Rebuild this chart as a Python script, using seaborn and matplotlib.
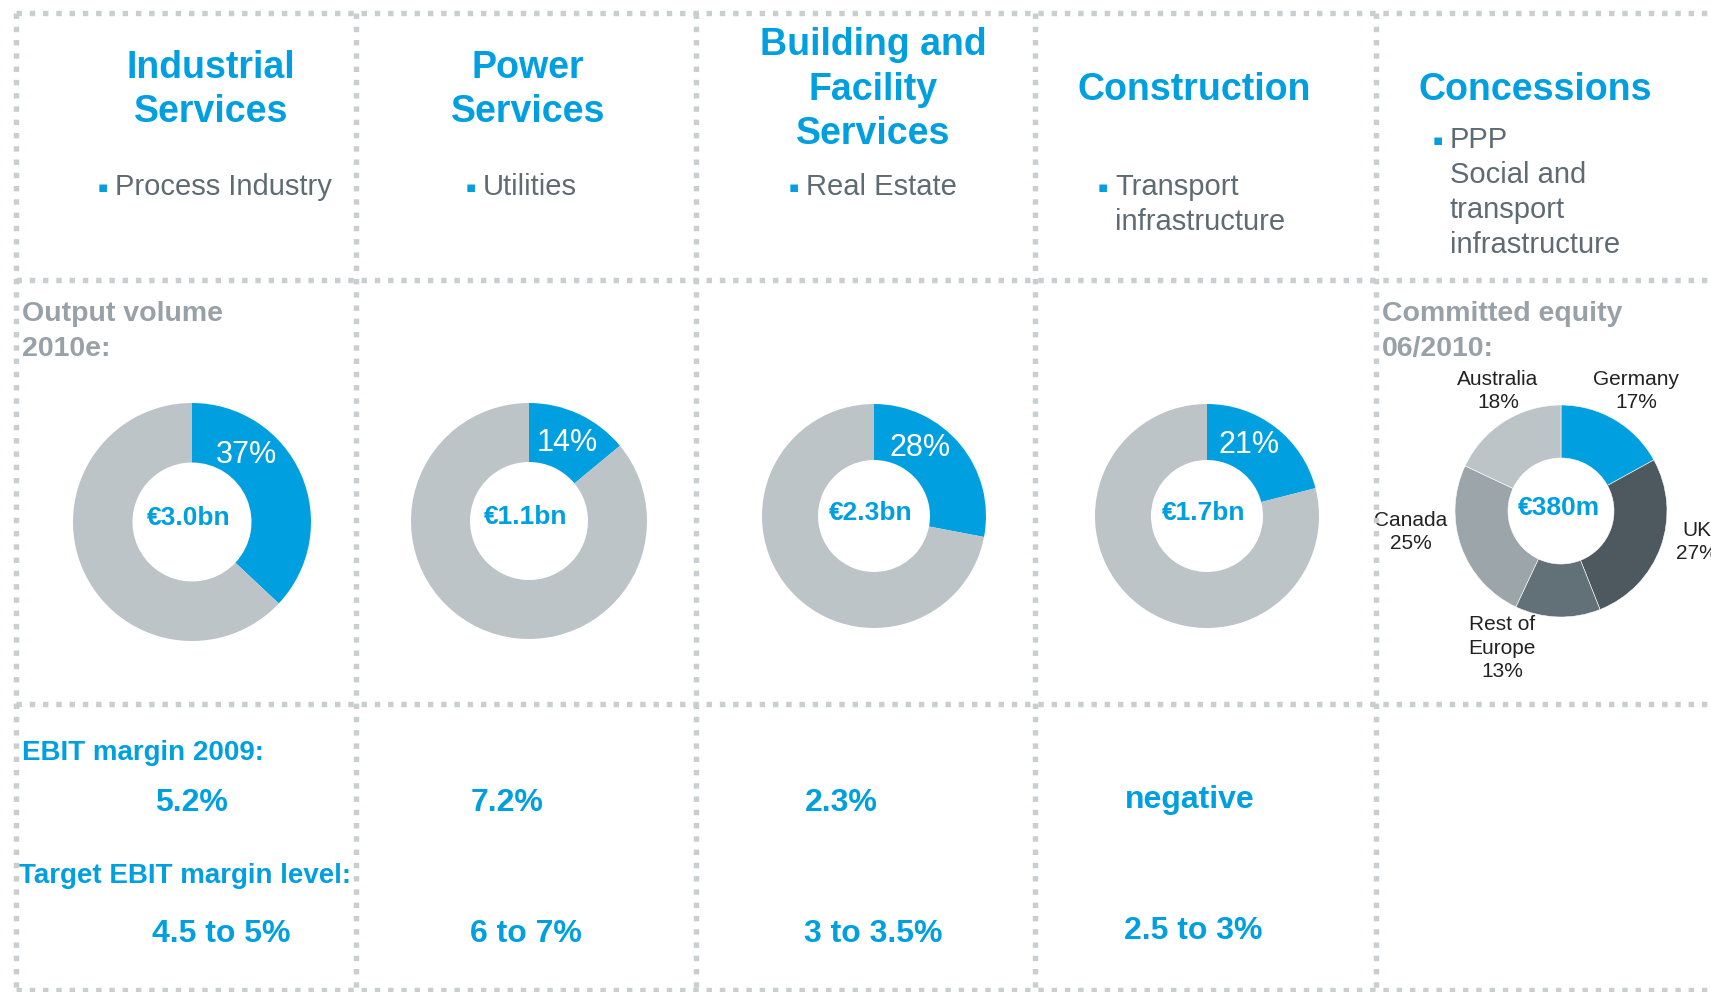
import matplotlib
matplotlib.use('Agg')
import matplotlib.pyplot as plt
import seaborn as sns

# ---- data ----
segments = ['Industrial\nServices', 'Power\nServices', 'Building and\nFacility\nServices',
            'Construction', 'Concessions']
focus = [['Process Industry'], ['Utilities'], ['Real Estate'],
         ['Transport', 'infrastructure'],
         ['PPP', 'Social and', 'transport', 'infrastructure']]

output_share = [37, 14, 28, 21]
output_volume = ['€3.0bn', '€1.1bn', '€2.3bn', '€1.7bn']
ebit_2009 = ['5.2%', '7.2%', '2.3%', 'negative']
ebit_target = ['4.5 to 5%', '6 to 7%', '3 to 3.5%', '2.5 to 3%']

equity_regions = ['Germany', 'UK', 'Rest of\nEurope', 'Canada', 'Australia']
equity_share = [17, 27, 13, 25, 18]
equity_total = '€380m'

# ---- style ----
BLUE = '#009fe0'
RING = '#bdc4c7'
SUB = '#5f6b73'
LABEL = '#98a1a7'
DOTS = '#c9ced1'
equity_colors = [BLUE, '#4e595f', '#627077', '#9ca5aa', '#bdc4c7']

sns.set_theme(style='white')
plt.rcParams['font.family'] = ['Liberation Sans', 'DejaVu Sans']

W, H = 1711, 992
fig = plt.figure(figsize=(W / 100, H / 100), dpi=100)
ax = fig.add_axes([0, 0, 1, 1])
ax.set_xlim(0, W)
ax.set_ylim(H, 0)
ax.axis('off')

# dotted grid
dot = dict(color=DOTS, lw=3.9, ls=(0, (1, 1.45)), zorder=10)
for y in [13, 280, 704, 990]:
    ax.plot([16, W], [y, y], **dot)
for x in [16, 356, 696, 1035, 1376]:
    ax.plot([x, x], [13, 990], **dot)

# headers
title_x = [211, 528, 873, 1194, 1535]
title_y0 = [78, 78, 55, 100, 100]
for name, x, y0 in zip(segments, title_x, title_y0):
    for i, line in enumerate(name.split('\n')):
        ax.text(x, y0 + i * 44.5, line, ha='center', va='baseline',
                fontsize=27, fontweight='bold', color=BLUE)

focus_x = [115, 483, 806, 1115, 1450]
focus_y0 = [195, 195, 195, 195, 148]
for lines, x, y0 in zip(focus, focus_x, focus_y0):
    ax.text(x - 7, y0 - 3, '▪', ha='right', va='baseline', fontsize=11,
            color=BLUE, family='DejaVu Sans')
    for i, line in enumerate(lines):
        ax.text(x, y0 + i * 35, line, ha='left', va='baseline',
                fontsize=21, color=SUB)

# section labels
for x, txt in [(22, ['Output volume', '2010e:']), (1382, ['Committed equity', '06/2010:'])]:
    for i, line in enumerate(txt):
        ax.text(x, 321 + i * 35, line, ha='left', va='baseline',
                fontsize=20.5, fontweight='bold', color=LABEL)

ax.text(22, 760, 'EBIT margin 2009:', ha='left', va='baseline',
        fontsize=20, fontweight='bold', color=BLUE)
ax.text(19, 883, 'Target EBIT margin level:', ha='left', va='baseline',
        fontsize=20, fontweight='bold', color=BLUE)

val_x = [191, 507, 841, 1190]
val_y = [811, 811, 811, 808]
tgt_x = [221, 526, 873, 1193]
tgt_y = [942, 942, 942, 939]
for v, x, y in zip(ebit_2009, val_x, val_y):
    ax.text(x, y, v, ha='center', va='baseline', fontsize=23,
            fontweight='bold', color=BLUE)
for v, x, y in zip(ebit_target, tgt_x, tgt_y):
    ax.text(x, y, v, ha='center', va='baseline', fontsize=23,
            fontweight='bold', color=BLUE)


def donut_axes(cx, cy, r):
    a = fig.add_axes([(cx - r) / W, 1 - (cy + r) / H, 2 * r / W, 2 * r / H])
    return a


# output donuts
centers = [(192, 522), (529, 521), (874, 516), (1207, 516)]
radii = [119, 118, 112, 112]
pct_pos = [(0.46, 0.56), (0.32, 0.66), (0.41, 0.61), (0.375, 0.63)]
for share, vol, (cx, cy), r, (px, py) in zip(output_share, output_volume,
                                               centers, radii, pct_pos):
    dax = donut_axes(cx, cy, r)
    dax.pie([share, 100 - share], colors=[BLUE, RING], startangle=90,
            counterclock=False, radius=1,
            wedgeprops=dict(width=0.5, linewidth=0))
    dax.set_xlim(-1, 1)
    dax.set_ylim(-1, 1)
    dax.text(px, py, f'{share}%', ha='center', va='center', fontsize=22,
             color='white')
    dax.text(-0.03, 0.03, vol, ha='center', va='center', fontsize=19,
             fontweight='bold', color=BLUE)

# concessions donut
cax = donut_axes(1561, 511, 106)
cax.pie(equity_share, colors=equity_colors, startangle=90, counterclock=False,
        radius=1, wedgeprops=dict(width=0.5, edgecolor='white', linewidth=0.4))
cax.set_xlim(-1, 1)
cax.set_ylim(-1, 1)
cax.text(-0.02, 0.03, equity_total, ha='center', va='center', fontsize=19,
         fontweight='bold', color=BLUE)

eq_pos = [(1636, 391), (1697, 542), (1502, 648), (1411, 532), (1498, 391)]
for name, share, (x, y) in zip(equity_regions, equity_share, eq_pos):
    ax.text(x, y, f'{name}\n{share}%', ha='center', va='center', fontsize=15,
            color='#222222', linespacing=1.3, zorder=5)

fig.savefig('out.png', dpi=100)
